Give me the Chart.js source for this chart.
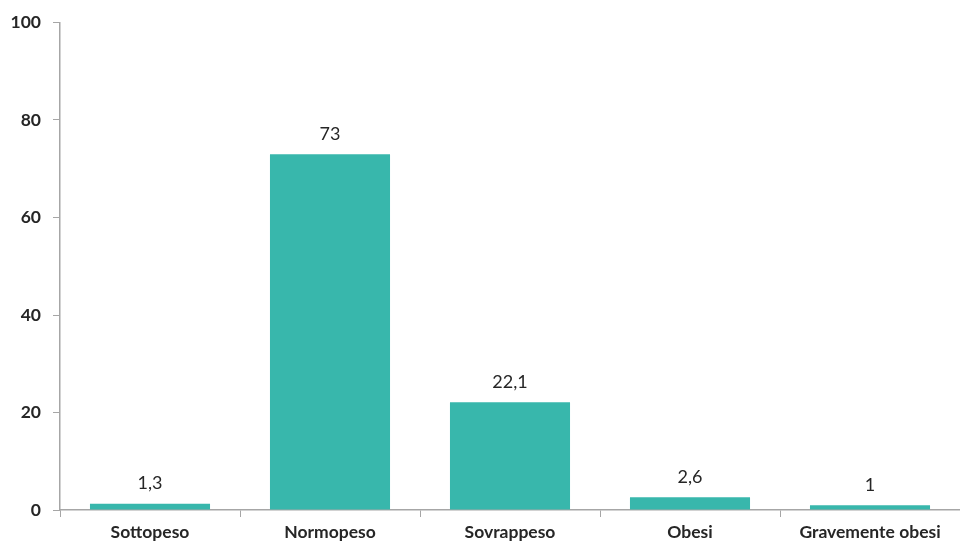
<!DOCTYPE html>
<html>

<head>
    <title>Indice di massa corporea</title>
    <script src="https://cdn.jsdelivr.net/npm/chart.js"></script>
    <style>
        body { margin: 0; background: #fff; }
        #wrap { width: 960px; height: 543px; }
    </style>
</head>

<body>
    <div id="wrap"><canvas id="myChart"></canvas></div>

    <script>
        const categorie = ["Sottopeso", "Normopeso", "Sovrappeso", "Obesi", "Gravemente obesi"];
        const valori = [1.3, 73, 22.1, 2.6, 1];
        const tickY = [0, 20, 40, 60, 80, 100];

        const coloreBarre = "#38b7ac";
        const coloreAssi = "#a6a6a6";
        const font = "Lato, 'Open Sans', sans-serif";

        // etichette con il valore sopra ogni barra (virgola decimale)
        const etichetteValori = {
            id: "etichetteValori",
            afterDatasetsDraw(chart) {
                const ctx = chart.ctx;
                const meta = chart.getDatasetMeta(0);
                ctx.save();
                ctx.font = "18px " + font;
                ctx.fillStyle = "#262626";
                ctx.textAlign = "center";
                ctx.textBaseline = "middle";
                meta.data.forEach((bar, i) => {
                    const testo = String(valori[i]).replace(".", ",");
                    ctx.fillText(testo, bar.x, bar.y - 20);
                });
                ctx.restore();
            }
        };

        const ctx = document.getElementById("myChart").getContext("2d");
        new Chart(ctx, {
            type: "bar",
            data: {
                labels: categorie,
                datasets: [{
                    data: valori,
                    backgroundColor: coloreBarre,
                    barPercentage: 0.667,
                    categoryPercentage: 1,
                }],
            },
            options: {
                responsive: true,
                maintainAspectRatio: false,
                animation: false,
                layout: { padding: { top: 18, right: 0, left: 0, bottom: 0 } },
                plugins: {
                    legend: { display: false },
                    tooltip: { enabled: false },
                },
                scales: {
                    x: {
                        offset: true,
                        grid: {
                            offset: true,
                            drawOnChartArea: false,
                            drawTicks: true,
                            tickLength: 7,
                            color: coloreAssi,
                        },
                        border: { color: coloreAssi, width: 1.5 },
                        ticks: {
                            color: "#262626",
                            font: { family: font, size: 17.5, weight: "bold" },
                            padding: 5,
                            maxRotation: 0,
                        },
                        afterFit(scale) { scale.height = 33; },
                    },
                    y: {
                        min: 0,
                        max: 100,
                        afterBuildTicks(scale) {
                            scale.ticks = tickY.map(v => ({ value: v }));
                        },
                        grid: {
                            drawOnChartArea: false,
                            tickLength: 7,
                            color: coloreAssi,
                        },
                        border: { color: coloreAssi, width: 1.5 },
                        ticks: {
                            color: "#262626",
                            font: { family: font, size: 17.5, weight: "bold" },
                            padding: 12,
                        },
                        afterFit(scale) { scale.width = 60; },
                    },
                },
            },
            plugins: [etichetteValori],
        });
    </script>
</body>

</html>
